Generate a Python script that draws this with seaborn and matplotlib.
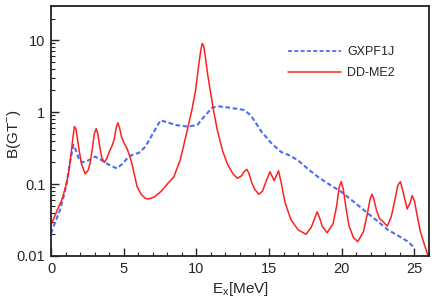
import matplotlib
matplotlib.use("Agg")
import matplotlib.pyplot as plt
import matplotlib.ticker as mticker
import seaborn as sns
import pandas as pd

# DD-ME2 strength
ddme2_ex = [0.0, 0.4, 0.74, 1.0, 1.2, 1.35, 1.48, 1.61, 1.72, 1.82, 1.95, 2.1, 2.35, 2.55, 2.7,
            2.85, 2.98, 3.11, 3.22, 3.35, 3.5, 3.68, 3.85, 4.03, 4.2, 4.35, 4.48, 4.6, 4.72,
            4.85, 5.0, 5.23, 5.4, 5.57, 5.75, 5.92, 6.2, 6.49, 6.72, 7.1, 7.6, 8.0, 8.45, 8.9,
            9.37, 9.7, 9.94, 10.17, 10.3, 10.4, 10.5, 10.62, 10.75, 10.95, 11.2, 11.44, 11.8,
            12.13, 12.5, 12.82, 13.1, 13.3, 13.47, 13.62, 13.8, 14.0, 14.3, 14.55, 14.8, 15.06,
            15.35, 15.65, 15.85, 16.1, 16.5, 17.0, 17.54, 17.9, 18.15, 18.3, 18.45, 18.65,
            18.99, 19.4, 19.65, 19.82, 19.96, 20.1, 20.3, 20.5, 20.8, 21.1, 21.5, 21.75, 21.95,
            22.08, 22.2, 22.4, 22.6, 22.72, 22.9, 23.13, 23.4, 23.65, 23.85, 24.03, 24.2, 24.5,
            24.7, 24.84, 25.0, 25.2, 25.4, 25.7, 25.95]
ddme2_b = [0.027, 0.042, 0.06, 0.09, 0.14, 0.23, 0.40, 0.63, 0.58, 0.42, 0.28, 0.19, 0.138,
           0.155, 0.2, 0.32, 0.5, 0.59, 0.5, 0.33, 0.23, 0.20, 0.23, 0.29, 0.34, 0.42, 0.6, 0.71,
           0.6, 0.45, 0.38, 0.31, 0.25, 0.19, 0.13, 0.092, 0.072, 0.063, 0.062, 0.066, 0.08,
           0.1, 0.126, 0.22, 0.56, 1.1, 2.0, 4.7, 7.2, 9.0, 8.3, 5.8, 3.6, 2.0, 1.0, 0.56, 0.29,
           0.19, 0.14, 0.12, 0.13, 0.15, 0.16, 0.14, 0.105, 0.085, 0.072, 0.08, 0.11, 0.148,
           0.111, 0.153, 0.1, 0.055, 0.032, 0.023, 0.020, 0.025, 0.034, 0.041, 0.035, 0.026,
           0.021, 0.028, 0.05, 0.09, 0.108, 0.085, 0.045, 0.026, 0.018, 0.0158, 0.022, 0.038,
           0.062, 0.072, 0.062, 0.042, 0.033, 0.0316, 0.029, 0.026, 0.035, 0.06, 0.095, 0.108,
           0.08, 0.045, 0.055, 0.069, 0.058, 0.035, 0.022, 0.014, 0.0098]

# GXPF1J strength
gxpf_ex = [0.0, 0.3, 0.62, 0.85, 1.08, 1.3, 1.54, 1.7, 1.89, 2.12, 2.5, 3.04, 3.4, 3.73, 4.1,
           4.53, 4.9, 5.34, 5.7, 6.03, 6.49, 7.0, 7.53, 8.0, 8.6, 9.37, 10.06, 10.5, 11.1,
           11.6, 12.3, 13.28, 13.74, 14.1, 14.43, 15.1, 15.81, 16.4, 16.97, 17.7, 18.35,
           19.1, 19.96, 20.9, 21.8, 22.5, 23.18, 23.9, 24.56, 25.02]
gxpf_b = [0.0206, 0.03, 0.0435, 0.065, 0.102, 0.2, 0.35, 0.3, 0.23, 0.20, 0.21, 0.24, 0.22,
          0.198, 0.18, 0.165, 0.19, 0.24, 0.26, 0.27, 0.33, 0.5, 0.77, 0.72, 0.66, 0.63, 0.66,
          0.85, 1.16, 1.2, 1.15, 1.07, 0.9, 0.7, 0.55, 0.38, 0.28, 0.25, 0.215, 0.16, 0.126,
          0.1, 0.078, 0.055, 0.039, 0.03, 0.023, 0.019, 0.0158, 0.0128]

series_names = ["GXPF1J", "DD-ME2"]

df = pd.concat([
    pd.DataFrame({"Ex": gxpf_ex, "B": gxpf_b, "model": series_names[0]}),
    pd.DataFrame({"Ex": ddme2_ex, "B": ddme2_b, "model": series_names[1]}),
])

sns.set_style("ticks")
plt.rcParams["font.family"] = ["Liberation Sans", "DejaVu Sans"]

fig = plt.figure(figsize=(4.36, 3.08), dpi=100)
ax = fig.add_axes([0.117, 0.169, 0.867, 0.812])

sns.lineplot(data=df, x="Ex", y="B", hue="model", style="model",
             palette={"GXPF1J": "#4a6ef0", "DD-ME2": "#ff2020"},
             dashes={"GXPF1J": (2.2, 1.3), "DD-ME2": ""},
             sort=False, estimator=None, ax=ax)
lines = ax.get_lines()
lines[0].set_linewidth(1.5)
lines[1].set_linewidth(1.1)

ax.set_yscale("log")
ax.set_xlim(0, 26)
ax.set_ylim(0.01, 30)

ax.xaxis.set_major_locator(mticker.MultipleLocator(5))
ax.xaxis.set_minor_locator(mticker.MultipleLocator(1))
ax.yaxis.set_major_locator(mticker.FixedLocator([0.01, 0.1, 1, 10]))
ax.yaxis.set_major_formatter(mticker.FixedFormatter(["0.01", "0.1", "1", "10"]))
ax.yaxis.set_minor_locator(mticker.LogLocator(base=10, subs=range(2, 10)))
ax.yaxis.set_minor_formatter(mticker.NullFormatter())

ax.tick_params(which="major", direction="in", length=6, width=1, labelsize=10.5, pad=4)
ax.tick_params(which="minor", direction="in", length=3, width=0.8)
for s in ax.spines.values():
    s.set_linewidth(1.3)
    s.set_color("#222222")

ax.set_xlabel("E$_\\mathregular{x}$[MeV]", fontsize=11, labelpad=3)
ax.set_ylabel("B(GT$^\\mathregular{-}$)", fontsize=11)
ax.yaxis.set_label_coords(-0.074, 0.488)

leg = ax.legend(loc="upper left", bbox_to_anchor=(0.627, 0.838), frameon=False,
                borderpad=0, borderaxespad=0,
                fontsize=9, handlelength=4.2, handletextpad=0.55, labelspacing=0.7)
leg.get_lines()[0].set_linewidth(1.3)
leg.get_lines()[1].set_linewidth(1.1)

fig.savefig("out.png", dpi=100)
